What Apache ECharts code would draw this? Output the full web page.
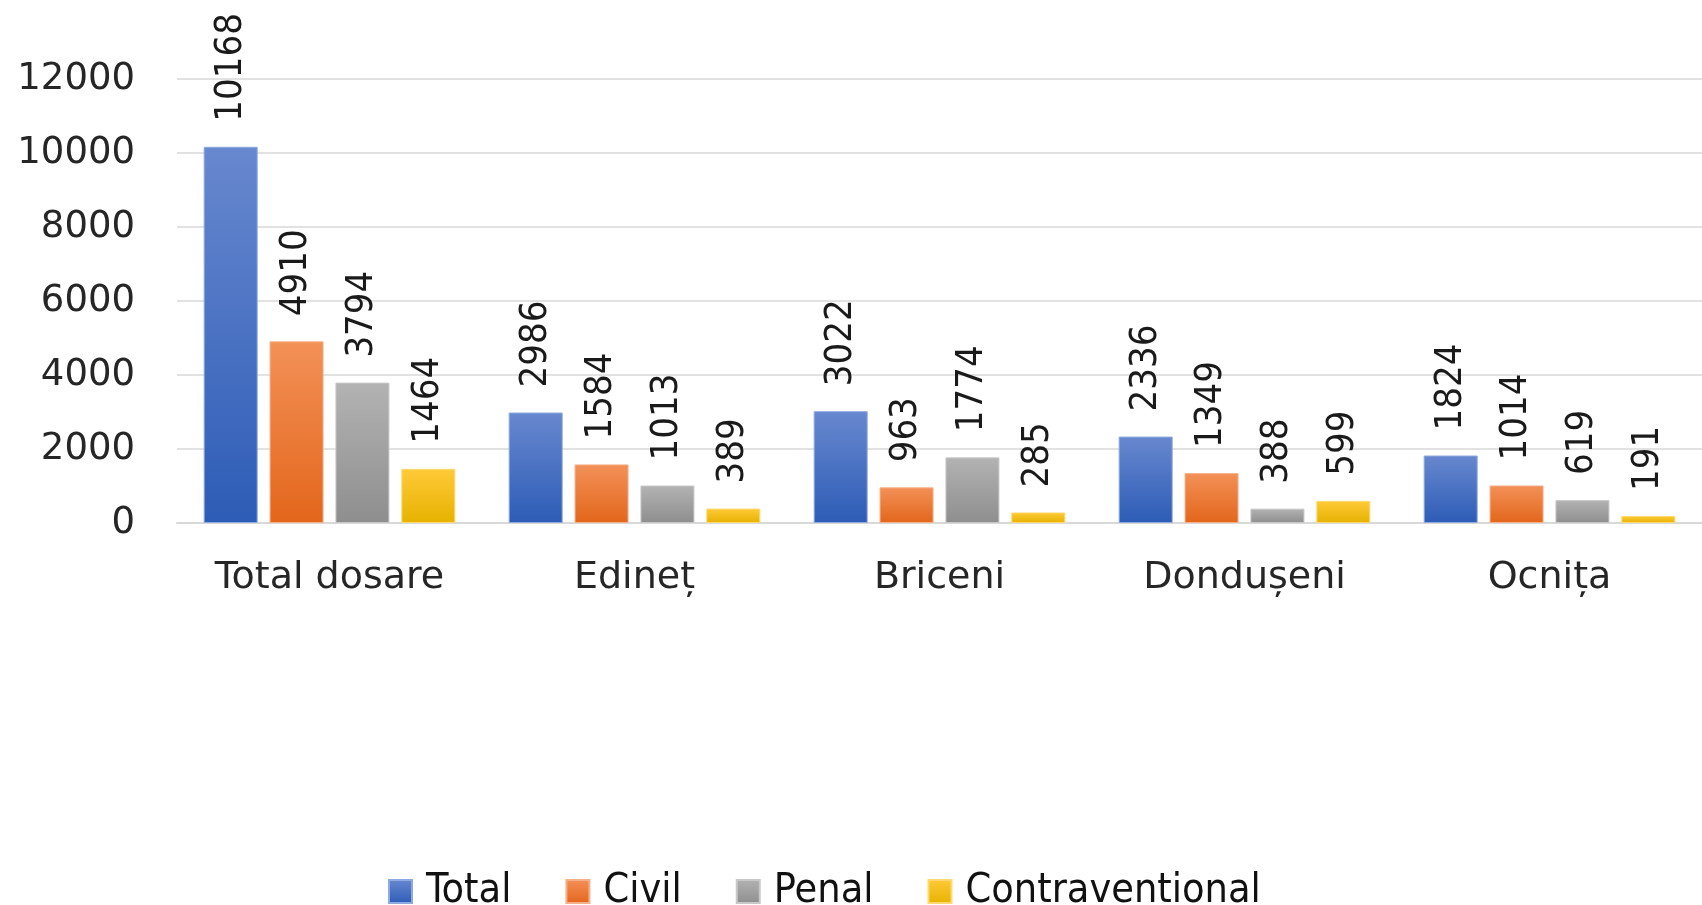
<!DOCTYPE html>
<html>
<head>
<meta charset="utf-8">
<script src="https://cdn.jsdelivr.net/npm/echarts@6/dist/echarts.min.js"></script>
<style>
html,body{margin:0;padding:0;background:#fff;}
#c{width:1702px;height:905px;}
</style>
</head>
<body>
<div id="c"></div>
<script>
const categories = ['Total dosare', 'Edineț', 'Briceni', 'Dondușeni', 'Ocnița'];
const totalValues = [10168, 2986, 3022, 2336, 1824];
const civilValues = [4910, 1584, 963, 1349, 1014];
const penalValues = [3794, 1013, 1774, 388, 619];
const contravValues = [1464, 389, 285, 599, 191];
const seriesNames = ['Total', 'Civil', 'Penal', 'Contravențional'];
const yTicks = { min: 0, max: 12000, interval: 2000 };

function grad(top, bottom) {
  return new echarts.graphic.LinearGradient(0, 0, 0, 1, [
    { offset: 0, color: top }, { offset: 1, color: bottom }
  ]);
}
const palette = [
  { top: '#6888cf', bottom: '#2d5cb6', border: '#8eaae0' },
  { top: '#f39158', bottom: '#e3661b', border: '#f5b08a' },
  { top: '#b3b3b3', bottom: '#8e8e8e', border: '#c8c8c8' },
  { top: '#ffca38', bottom: '#e6b200', border: '#ffd970' }
];
const labelFont = "'DejaVu Sans Condensed', sans-serif";
const dataSets = [totalValues, civilValues, penalValues, contravValues];

const chart = echarts.init(document.getElementById('c'), null, { renderer: 'canvas' });
chart.setOption({
  animation: false,
  backgroundColor: '#ffffff',
  grid: { left: 177, right: 0, top: 79, bottom: 382, containLabel: false },
  legend: {
    left: 383, top: 866,
    itemWidth: 23, itemHeight: 23, itemGap: 54,
    icon: 'rect',
    textStyle: { fontFamily: labelFont, fontSize: 41, color: '#111', padding: [0, 0, 0, 9] },
    data: seriesNames
  },
  xAxis: {
    type: 'category',
    data: categories,
    axisLine: { show: true, lineStyle: { color: '#d9d9d9', width: 2 } },
    axisTick: { show: false },
    axisLabel: { interval: 0, fontFamily: 'DejaVu Sans', fontSize: 38, color: '#262626', margin: 36 }
  },
  yAxis: {
    type: 'value',
    min: yTicks.min, max: yTicks.max, interval: yTicks.interval,
    axisLine: { show: false },
    axisTick: { show: false },
    splitLine: { lineStyle: { color: '#d9d9d9', width: 1.5 } },
    axisLabel: { fontFamily: 'DejaVu Sans', fontSize: 37, color: '#262626', margin: 42,
      formatter: v => String(v) }
  },
  series: seriesNames.map((name, i) => ({
    name: name,
    type: 'bar',
    data: dataSets[i],
    barWidth: 54,
    barGap: '22%',
    itemStyle: {
      color: grad(palette[i].top, palette[i].bottom),
      borderColor: palette[i].border,
      borderWidth: 1
    },
    label: {
      show: true,
      position: 'top',
      rotate: 90,
      align: 'left',
      verticalAlign: 'middle',
      distance: 25,
      fontFamily: labelFont,
      fontSize: 38,
      color: '#1a1a1a'
    }
  }))
});
</script>
</body>
</html>
